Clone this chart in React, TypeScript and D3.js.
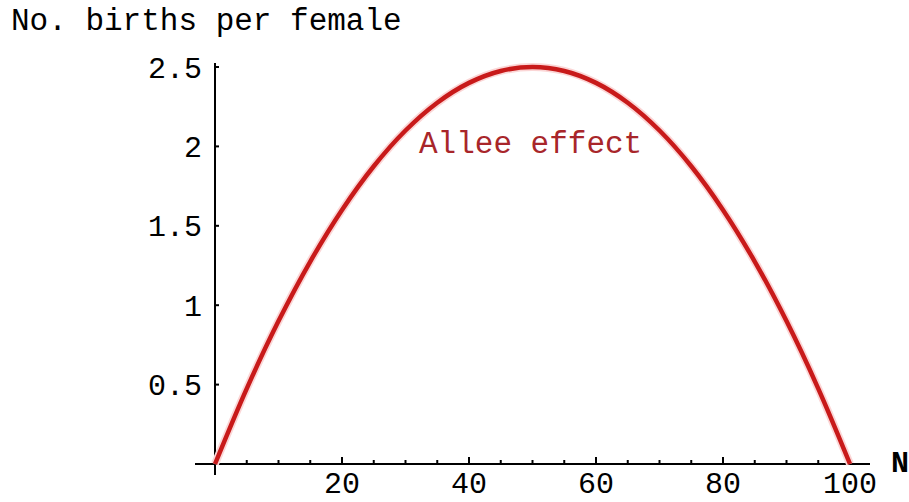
import React from "react";
import * as d3 from "d3";

// Population size N and births per female at each N
const popSize = [0, 5, 10, 15, 20, 25, 30, 35, 40, 45, 50, 55, 60, 65, 70, 75, 80, 85, 90, 95, 100];
const births = [0, 0.475, 0.9, 1.275, 1.6, 1.875, 2.1, 2.275, 2.4, 2.475, 2.5, 2.475, 2.4, 2.275, 2.1, 1.875, 1.6, 1.275, 0.9, 0.475, 0];

const xMajorTicks = [20, 40, 60, 80, 100];
const xMinorTicks = [5, 10, 15, 25, 30, 35, 45, 50, 55, 65, 70, 75, 85, 90, 95];
const yMajorTicks = [0.5, 1, 1.5, 2, 2.5];
const yTickLabels = ["0.5", "1", "1.5", "2", "2.5"];

const yTitle = "No. births per female";
const xTitle = "N";
const curveLabel = "Allee effect";

const W = 909;
const H = 502;
const FONT = "'Liberation Mono', 'Courier New', monospace";

export default function App() {
  const x = d3.scaleLinear().domain([0, 100]).range([215, 850]);
  const y = d3.scaleLinear().domain([0, 2.5]).range([464, 67]);

  const pts: [number, number][] = popSize.map((n, i) => [n, births[i]]);
  const line = d3
    .line<[number, number]>()
    .x((d) => x(d[0]))
    .y((d) => y(d[1]))
    .curve(d3.curveCatmullRom);
  const path = line(pts) || "";

  const x0 = x(0);
  const y0 = y(0);

  return (
    <svg
      width={W}
      height={H}
      viewBox={`0 0 ${W} ${H}`}
      style={{ position: "absolute", left: 0, top: 0, display: "block", background: "#fff" }}
    >
      <rect x={0} y={0} width={W} height={H} fill="#fff" />

      {/* axes */}
      <line x1={195} x2={870} y1={y0} y2={y0} stroke="#000" strokeWidth={2} />
      <line x1={x0} x2={x0} y1={63} y2={475} stroke="#000" strokeWidth={2} />

      {/* x ticks */}
      {xMajorTicks.map((t) => (
        <line key={"xM" + t} x1={x(t)} x2={x(t)} y1={y0} y2={y0 - 7} stroke="#000" strokeWidth={2} />
      ))}
      {xMinorTicks.map((t) => (
        <line key={"xm" + t} x1={x(t)} x2={x(t)} y1={y0} y2={y0 - 4} stroke="#000" strokeWidth={2} />
      ))}
      {xMajorTicks.map((t) => (
        <text
          key={"xl" + t}
          x={x(t)}
          y={493}
          textAnchor="middle"
          fontFamily={FONT}
          fontSize={30}
          fill="#000"
        >
          {t}
        </text>
      ))}

      {/* y ticks */}
      {yMajorTicks.map((t, i) => (
        <g key={"y" + t}>
          <line x1={x0} x2={x0 + 4} y1={y(t)} y2={y(t)} stroke="#000" strokeWidth={2} />
          <text
            x={202}
            y={y(t)}
            dy="0.35em"
            textAnchor="end"
            fontFamily={FONT}
            fontSize={30}
            fill="#000"
          >
            {yTickLabels[i]}
          </text>
        </g>
      ))}

      {/* titles */}
      <text x={11} y={30} fontFamily={FONT} fontSize={31} fill="#000">
        {yTitle}
      </text>
      <text x={891} y={472} fontFamily={FONT} fontSize={30} fontWeight="bold" fill="#000">
        {xTitle}
      </text>

      {/* curve */}
      <path d={path} fill="none" stroke="#fbd6d6" strokeWidth={8} strokeLinejoin="round" />
      <path d={path} fill="none" stroke="#c81a1a" strokeWidth={4.5} strokeLinejoin="round" />

      <text
        x={x(49.7)}
        y={153}
        textAnchor="middle"
        fontFamily={FONT}
        fontSize={31}
        fill="#a8262a"
      >
        {curveLabel}
      </text>
    </svg>
  );
}
